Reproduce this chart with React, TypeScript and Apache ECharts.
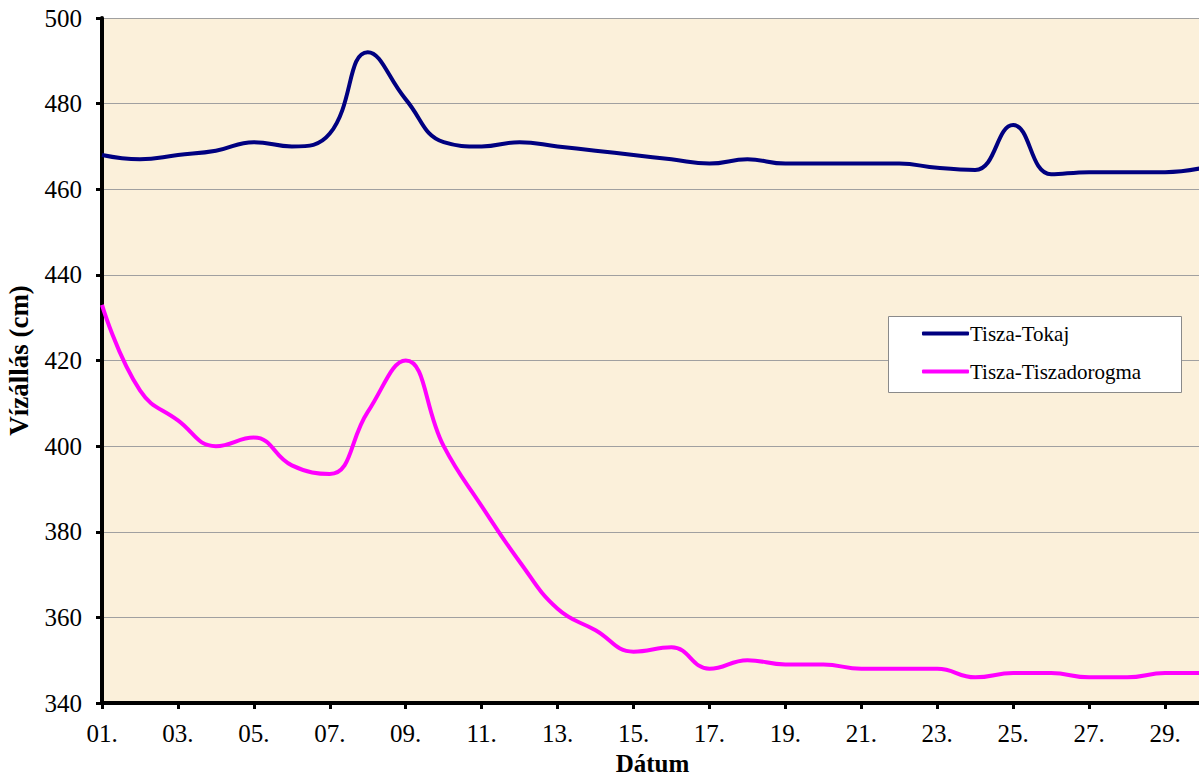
import React, { useEffect, useRef } from "react";
import * as echarts from "echarts";

const days: string[] = [
  "01.", "02.", "03.", "04.", "05.", "06.", "07.", "08.", "09.", "10.",
  "11.", "12.", "13.", "14.", "15.", "16.", "17.", "18.", "19.", "20.",
  "21.", "22.", "23.", "24.", "25.", "26.", "27.", "28.", "29.", "30.",
];

const tokaj: number[] = [
  468, 467, 468, 469, 471, 470, 473, 492, 481, 471,
  470, 471, 470, 469, 468, 467, 466, 467, 466, 466,
  466, 466, 465, 464.5, 475, 463.5, 464, 464, 464, 465,
];

const tiszadorogma: number[] = [
  433, 413, 406, 400, 402, 395.5, 393.5, 408, 420, 400,
  386, 373, 362, 357, 352, 353, 348, 350, 349, 349,
  348, 348, 348, 346, 347, 347, 346, 346, 347, 347,
];

const seriesNames: string[] = ["Tisza-Tokaj", "Tisza-Tiszadorogma"];

const FONT = "Liberation Serif, Times New Roman, serif";

export default function App() {
  const ref = useRef<HTMLDivElement>(null);

  useEffect(() => {
    if (!ref.current) return;
    const chart = echarts.init(ref.current, null, { renderer: "svg" });
    chart.setOption({
      animation: false,
      backgroundColor: "#ffffff",
      textStyle: { fontFamily: FONT },
      grid: {
        left: 102,
        top: 18,
        bottom: 75,
        right: -4,
        outerBoundsMode: "none",
        containLabel: false,
        show: true,
        backgroundColor: "#FBF0DA",
        borderWidth: 0,
      },
      graphic: [
        {
          type: "rect",
          z: 3,
          shape: { x: 888.5, y: 316.5, width: 293, height: 76 },
          style: { fill: "#ffffff", stroke: "#8a8a8a", lineWidth: 1 },
        },
      ],
      legend: {
        orient: "vertical",
        left: 922,
        top: 323,
        z: 5,
        padding: 0,
        itemGap: 17,
        itemWidth: 47,
        itemHeight: 4,
        icon: "roundRect",
        textStyle: {
          fontFamily: FONT,
          fontSize: 21,
          color: "#000",
          padding: [0, 0, 0, -4],
        },
        data: seriesNames,
      },
      xAxis: {
        type: "category",
        data: days,
        boundaryGap: false,
        name: "Dátum",
        nameLocation: "middle",
        nameGap: 44,
        nameTextStyle: { fontFamily: FONT, fontSize: 25, fontWeight: "bold", color: "#000" },
        axisLine: { lineStyle: { color: "#000", width: 4 } },
        axisTick: { interval: 1, length: 6, lineStyle: { color: "#000", width: 3 } },
        axisLabel: { interval: 1, fontFamily: FONT, fontSize: 25, color: "#000", margin: 18 },
        splitLine: { show: false },
      },
      yAxis: {
        type: "value",
        min: 340,
        max: 500,
        interval: 20,
        name: "Vízállás (cm)",
        nameLocation: "middle",
        nameRotate: 90,
        nameGap: 70,
        nameTextStyle: { fontFamily: FONT, fontSize: 27, fontWeight: "bold", color: "#000" },
        axisLine: { show: true, lineStyle: { color: "#000", width: 4 } },
        axisTick: { show: true, length: 6, lineStyle: { color: "#000", width: 3 } },
        axisLabel: { fontFamily: FONT, fontSize: 25, color: "#000", margin: 20 },
        splitLine: { show: true, lineStyle: { color: "#A0A0A0", width: 1 } },
      },
      series: [
        {
          name: seriesNames[0],
          type: "line",
          data: tokaj,
          smooth: 0.45,
          symbol: "none",
          lineStyle: { color: "#000080", width: 4 },
          itemStyle: { color: "#000080" },
        },
        {
          name: seriesNames[1],
          type: "line",
          data: tiszadorogma,
          smooth: 0.45,
          symbol: "none",
          lineStyle: { color: "#FF00FF", width: 4 },
          itemStyle: { color: "#FF00FF" },
        },
      ],
    });
    return () => chart.dispose();
  }, []);

  return (
    <div
      ref={ref}
      style={{ position: "absolute", left: 0, top: 0, width: 1199, height: 778 }}
    />
  );
}
